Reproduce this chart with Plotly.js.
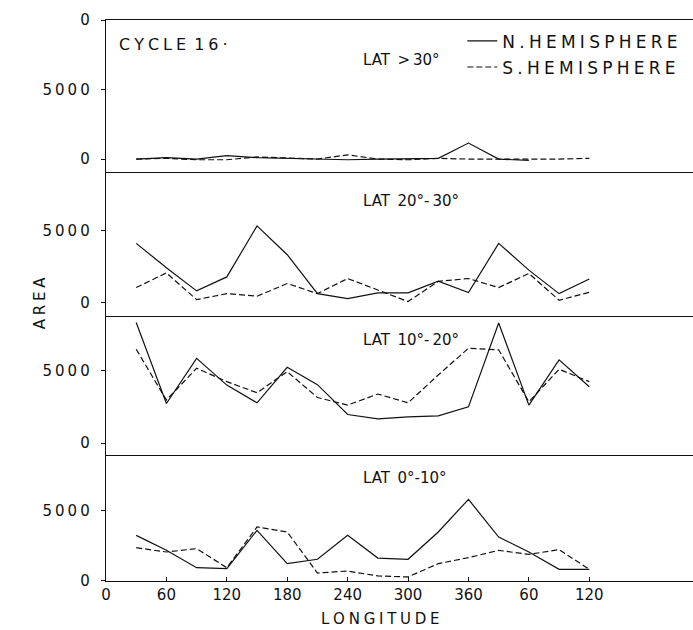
<!DOCTYPE html>
<html>
<head>
<meta charset="utf-8">
<script src="https://cdn.plot.ly/plotly-3.0.1.min.js"></script>
<style>html,body{margin:0;padding:0;background:#fff;}#chart{width:693px;height:630px;}</style>
</head>
<body>
<div id="chart"></div>
<script>
// Longitude of each sample point (degrees; 390..480 wrap round to 30..120)
const longitude = [30, 60, 90, 120, 150, 180, 210, 240, 270, 300, 330, 360, 390, 420, 450, 480];
const tickValues = [0, 60, 120, 180, 240, 300, 360, 420, 480];
const tickLabels = ['0', '60', '120', '180', '240', '300', '360', '60', '120'];

// LAT > 30
const north30 = [0, 100, 0, 250, 100, 50, 50, -50, 0, 0, 50, 1150, 0, -100, null, null];
const south30 = [0, 50, -50, -50, 150, 50, 0, 300, 0, -50, 50, 0, 0, -50, 0, 50];
// LAT 20-30
const north2030 = [4140, 2450, 840, 1810, 5350, 3350, 650, 300, 700, 700, 1510, 720, 4140, 2280, 650, 1670];
const south2030 = [1070, 2090, 230, 650, 470, 1350, 650, 1700, 900, 100, 1500, 1700, 1070, 2050, 190, 740];
// LAT 10-20
const north1020 = [8370, 2740, 5880, 4020, 2790, 5260, 4050, 1980, 1670, 1810, 1880, 2510, 8330, 2630, 5770, 3910];
const south1020 = [6510, 2980, 5190, 4260, 3490, 4950, 3160, 2630, 3400, 2790, 4720, 6580, 6470, 2860, 5120, 4260];
// LAT 0-10
const north010 = [3260, 2200, 950, 880, 3620, 1240, 1550, 3260, 1640, 1550, 3500, 5830, 3140, 2070, 830, 830];
const south010 = [2380, 2070, 2310, 950, 3860, 3500, 570, 710, 360, 290, 1240, 1670, 2190, 1900, 2240, 830];

const panelLabels = ['LAT\u2005\u2005>\u200930\u00B0', 'LAT\u2005\u200520\u00B0-\u200930\u00B0', 'LAT\u2005\u200510\u00B0-\u200920\u00B0', 'LAT\u2005\u20050\u00B0-10\u00B0'];
const yTickValues = [0, 5000, 10000];
const yTickLabels = ['0', '5\u20090\u20090\u20090', '0'];

const FONT = 'DejaVu Sans, sans-serif';
const sp = s => s.split('').join('\u2005');

function solid(y, xa, ya, name, leg) {
  return {x: longitude, y: y, xaxis: xa, yaxis: ya, type: 'scatter', mode: 'lines', name: name,
    showlegend: !!leg, legendgroup: name, connectgaps: false,
    line: {color: '#111', width: 1.2}};
}
function dashed(y, xa, ya, name, leg) {
  return {x: longitude, y: y, xaxis: xa, yaxis: ya, type: 'scatter', mode: 'lines', name: name,
    showlegend: !!leg, legendgroup: name,
    line: {color: '#111', width: 1.2, dash: '6px,3px'}};
}

const nName = sp('N.HEMISPHERE');
const sName = sp('S.HEMISPHERE');
const data = [
  solid(north30, 'x2', 'y', nName, true),
  dashed(south30, 'x2', 'y', sName, true),
  solid(north2030, 'x3', 'y2', nName),
  dashed(south2030, 'x3', 'y2', sName),
  solid(north1020, 'x4', 'y3', nName),
  dashed(south1020, 'x4', 'y3', sName),
  solid(north010, 'x', 'y4', nName),
  dashed(south010, 'x', 'y4', sName)
];

const xRange = [0, 583];
function xHidden(anchor, mirror) {
  return {matches: 'x', anchor: anchor, domain: [0, 1], range: xRange, showline: true, mirror: mirror,
    linecolor: '#111', linewidth: 1.3, showticklabels: false, ticks: '', showgrid: false, zeroline: false};
}
function yAxis(domain, range) {
  return {domain: domain, range: range, anchor: 'x', tickvals: yTickValues, ticktext: yTickLabels,
    ticks: 'outside', ticklen: 4, tickcolor: '#111', showline: true, linecolor: '#111', linewidth: 1.3,
    showgrid: false, zeroline: false, ticklabelstandoff: 8,
    tickfont: {family: FONT, size: 15, color: '#111'}};
}

const layout = {
  width: 693, height: 630,
  margin: {l: 106, r: 0, t: 20, b: 49},
  paper_bgcolor: '#fff', plot_bgcolor: '#fff',
  showlegend: true,
  legend: {x: 0.607, y: 0.994, xanchor: 'left', yanchor: 'top', bgcolor: 'rgba(0,0,0,0)',
    font: {family: FONT, size: 17, color: '#111'}, tracegroupgap: 1},
  xaxis: {domain: [0, 1], range: xRange, anchor: 'y4', tickvals: tickValues, ticktext: tickLabels,
    ticks: 'inside', ticklen: 4, tickcolor: '#111', showline: true, mirror: false, linecolor: '#111', linewidth: 1.3,
    showgrid: false, zeroline: false, tickfont: {family: FONT, size: 15, color: '#111'}},
  xaxis2: xHidden('y', true),
  xaxis3: xHidden('y2', false),
  xaxis4: xHidden('y3', false),
  yaxis: yAxis([0.7291, 1], [-929, 10000]),
  yaxis2: yAxis([0.4724, 0.7291], [-903, 9097]),
  yaxis3: yAxis([0.2246, 0.4724], [-833, 8819]),
  yaxis4: yAxis([0, 0.2246], [0, 9000]),
  annotations: [
    {text: sp('CYCLE') + '\u2005\u2005' + sp('16') + '\u2005\u00B7', xref: 'paper', yref: 'paper', x: 0.018, y: 0.957,
      xanchor: 'left', yanchor: 'middle', showarrow: false, font: {family: FONT, size: 16, color: '#111'}},
    {text: panelLabels[0], xref: 'paper', yref: 'paper', x: 0.435, y: 0.929, xanchor: 'left', yanchor: 'middle',
      showarrow: false, font: {family: FONT, size: 15, color: '#111'}},
    {text: panelLabels[1], xref: 'paper', yref: 'paper', x: 0.435, y: 0.677, xanchor: 'left', yanchor: 'middle',
      showarrow: false, font: {family: FONT, size: 15, color: '#111'}},
    {text: panelLabels[2], xref: 'paper', yref: 'paper', x: 0.435, y: 0.429, xanchor: 'left', yanchor: 'middle',
      showarrow: false, font: {family: FONT, size: 15, color: '#111'}},
    {text: panelLabels[3], xref: 'paper', yref: 'paper', x: 0.435, y: 0.184, xanchor: 'left', yanchor: 'middle',
      showarrow: false, font: {family: FONT, size: 15, color: '#111'}},
    {text: sp('AREA'), xref: 'paper', yref: 'paper', x: -0.112, y: 0.4955, xanchor: 'center', yanchor: 'middle',
      textangle: -90, showarrow: false, font: {family: FONT, size: 15, color: '#111'}},
    {text: sp('LONGITUDE'), xref: 'paper', yref: 'paper', x: 0.467, y: -0.068, xanchor: 'center', yanchor: 'middle',
      showarrow: false, font: {family: FONT, size: 15, color: '#111'}}
  ]
};

Plotly.newPlot('chart', data, layout, {displayModeBar: false, staticPlot: true});
</script>
</body>
</html>
